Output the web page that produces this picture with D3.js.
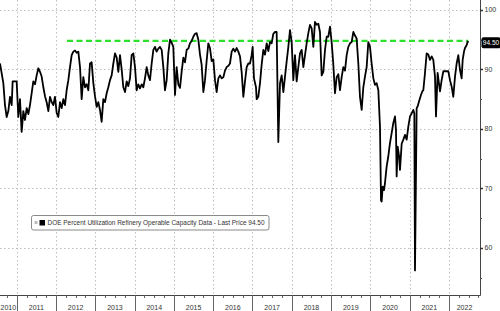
<!DOCTYPE html>
<html>
<head>
<meta charset="utf-8">
<script src="https://cdn.jsdelivr.net/npm/d3@7"></script>
<style>
  body { margin: 0; background: #fff; }
  text { font-family: "Liberation Sans", Arial, sans-serif; }
</style>
</head>
<body>
<div class="chart"></div>
<script>
// weekly-ish readings, x as decimal year
var dates = [
  2010.575, 2010.660, 2010.702, 2010.745, 2010.787, 2010.829, 2010.872, 2010.897, 2010.957, 2010.999,
  2011.041, 2011.084, 2011.126, 2011.169, 2011.211, 2011.254, 2011.296, 2011.338, 2011.381, 2011.423,
  2011.466, 2011.508, 2011.550, 2011.593, 2011.635, 2011.678, 2011.720, 2011.762, 2011.805, 2011.847,
  2011.890, 2011.932, 2011.974, 2012.017, 2012.059, 2012.102, 2012.144, 2012.187, 2012.229, 2012.271,
  2012.314, 2012.356, 2012.399, 2012.441, 2012.483, 2012.526, 2012.568, 2012.611, 2012.653, 2012.695,
  2012.738, 2012.780, 2012.823, 2012.865, 2012.907, 2012.950, 2012.992, 2013.035, 2013.077, 2013.119,
  2013.162, 2013.204, 2013.247, 2013.289, 2013.331, 2013.374, 2013.416, 2013.459, 2013.501, 2013.544,
  2013.586, 2013.628, 2013.671, 2013.713, 2013.756, 2013.798, 2013.840, 2013.883, 2013.925, 2013.968,
  2014.010, 2014.052, 2014.095, 2014.137, 2014.180, 2014.222, 2014.264, 2014.307, 2014.349, 2014.392,
  2014.434, 2014.477, 2014.519, 2014.561, 2014.604, 2014.646, 2014.689, 2014.731, 2014.773, 2014.816,
  2014.858, 2014.901, 2014.943, 2014.985, 2015.028, 2015.070, 2015.113, 2015.155, 2015.197, 2015.240,
  2015.282, 2015.325, 2015.367, 2015.410, 2015.452, 2015.494, 2015.537, 2015.579, 2015.622, 2015.664,
  2015.706, 2015.749, 2015.791, 2015.834, 2015.876, 2015.918, 2015.961, 2016.003, 2016.046, 2016.088,
  2016.131, 2016.173, 2016.215, 2016.258, 2016.300, 2016.343, 2016.385, 2016.427, 2016.470, 2016.512,
  2016.555, 2016.597, 2016.640, 2016.682, 2016.724, 2016.767, 2016.809, 2016.852, 2016.894, 2016.936,
  2016.979, 2017.004, 2017.038, 2017.089, 2017.106, 2017.148, 2017.191, 2017.233, 2017.276, 2017.318,
  2017.361, 2017.403, 2017.445, 2017.488, 2017.530, 2017.573, 2017.615, 2017.657, 2017.700, 2017.742,
  2017.785, 2017.827, 2017.869, 2017.912, 2017.954, 2017.997, 2018.039, 2018.081, 2018.124, 2018.166,
  2018.209, 2018.251, 2018.294, 2018.336, 2018.378, 2018.421, 2018.463, 2018.506, 2018.548, 2018.590,
  2018.633, 2018.675, 2018.717, 2018.760, 2018.802, 2018.845, 2018.887, 2018.929, 2018.972, 2019.014,
  2019.057, 2019.099, 2019.142, 2019.184, 2019.226, 2019.269, 2019.311, 2019.354, 2019.396, 2019.438,
  2019.481, 2019.523, 2019.566, 2019.608, 2019.650, 2019.693, 2019.735, 2019.778, 2019.820, 2019.862,
  2019.905, 2019.947, 2019.990, 2020.032, 2020.075, 2020.117, 2020.159, 2020.202, 2020.244, 2020.270,
  2020.287, 2020.312, 2020.346, 2020.371, 2020.414, 2020.456, 2020.498, 2020.541, 2020.583, 2020.626,
  2020.651, 2020.668, 2020.694, 2020.728, 2020.753, 2020.796, 2020.838, 2020.881, 2020.923, 2020.965,
  2021.008, 2021.050, 2021.093, 2021.118, 2021.135, 2021.177, 2021.203, 2021.237, 2021.287, 2021.321,
  2021.347, 2021.389, 2021.432, 2021.474, 2021.516, 2021.559, 2021.601, 2021.644, 2021.669, 2021.711,
  2021.771, 2021.813, 2021.856, 2021.898, 2021.940, 2021.983, 2022.025, 2022.068, 2022.110, 2022.153,
  2022.195, 2022.237, 2022.280, 2022.322, 2022.348, 2022.382, 2022.407, 2022.450, 2022.475, 2022.492
];

var values = [
  91, 87.7, 84, 82, 83, 85.4, 84, 88, 88, 88,
  82, 85, 79.5, 83, 81.5, 83.5, 82.5, 84, 86, 88,
  87.5, 89, 90.2, 89.6, 88.8, 87, 85.5, 84.5, 83, 85.4,
  84.5, 84, 85.4, 82.7, 82, 84.5, 83.5, 85, 84, 86.5,
  88.2, 90.4, 92.4, 93, 93.2, 92.8, 93, 90.4, 85, 88.7,
  87, 87.5, 86.5, 91, 91.2, 87.7, 85.5, 83.7, 84.5, 83.2,
  81.2, 85, 84.5, 86, 87, 88.2, 89, 91, 92.7, 92,
  89.6, 92.4, 90, 87, 86.2, 88, 87.2, 88.5, 92.4, 92.7,
  90.4, 86.5, 87.5, 86.8, 87.5, 87, 88.5, 90.4, 89, 88.2,
  91, 93.3, 93.8, 93, 93.5, 93.8, 93.3, 90.4, 86.5, 88.2,
  92.7, 95, 94.5, 93.8, 85.7, 90.4, 87.5, 86.9, 89.6, 92,
  91.2, 93.3, 93.5, 94.4, 94.8, 95.5, 96, 96.1, 95, 92.5,
  90.8, 86.2, 88.2, 91.5, 94.4, 93.6, 91.4, 91.7, 88.2, 86.2,
  88.5, 89, 88.5, 88.7, 89.8, 90.4, 90.6, 91, 93, 93.5,
  93, 93.6, 93, 92.2, 89.6, 85.4, 88, 90.4, 91, 91,
  92.4, 93.8, 88.5, 87, 85, 85.4, 87.7, 90.8, 93.3, 92.5,
  94.4, 93.1, 94.6, 94.4, 96, 96.3, 96.3, 77.8, 87.7, 89,
  86.2, 88.8, 91.3, 93.8, 96.6, 94.6, 88.2, 92.4, 88, 90.4,
  92.7, 93.3, 90.4, 92.4, 94.4, 96.1, 97.5, 96.9, 93.8, 98,
  97.5, 97.7, 96.3, 89, 89.6, 93.3, 95.5, 95.5, 97.2, 94.6,
  90.8, 86, 88.7, 89.2, 86.5, 88.7, 90.4, 89.8, 92.4, 93.8,
  94.4, 94.6, 96.3, 95.7, 95.2, 91, 85.4, 83.2, 87, 88.8,
  90.4, 94.6, 93.8, 91, 88.5, 87.4, 87.7, 86.5, 80.4, 68,
  67.8, 70.3, 69.7, 70.9, 73.7, 75.4, 77.6, 79.3, 81, 82.1,
  79.8, 72, 77, 75.5, 73.1, 77.5, 78.2, 79, 78.2, 80.4,
  82.1, 82.6, 83.2, 82.6, 56.2, 83.5, 83.8, 84.6, 85.7, 86.3,
  86.5, 89.4, 92.7, 92.5, 91.6, 92.2, 91.6, 88.8, 82.1, 89.4,
  86.3, 88.2, 89.7, 89.7, 89.7, 89.7, 88.2, 87.1, 85.4, 88.8,
  91, 92.4, 89.9, 88.5, 91.6, 93, 93.6, 94.1, 94.7, 94.5
];

var yearLabels = ["2010", "2011", "2012", "2013", "2014", "2015", "2016", "2017", "2018", "2019", "2020", "2021", "2022"];
var yTicks = [60, 70, 80, 90, 100];
var yMinorTicks = [55, 65, 75, 85, 95];
var lastPrice = 94.50;
var greenLevel = 94.8;
var greenStart = 2012.28;
var legendText = "DOE Percent Utilization Refinery Operable Capacity Data - Last Price 94.50";

var svgWidth = 500;
var svgHeight = 311;
var plotRight = 480;
var plotBottom = 295.5;

var svg = d3.select(".chart")
  .append("svg")
    .attr("width", svgWidth)
    .attr("height", svgHeight);

var xScale = d3.scaleLinear()
  .domain([2010.575, 2022.789])
  .range([0, plotRight]);

var yScale = d3.scaleLinear()
  .domain([51.98, 101.68])
  .range([plotBottom, 0]);

var grid = svg.append("g");

// horizontal dotted grid
grid.selectAll("line.h")
  .data(yTicks)
  .enter().append("line")
    .attr("x1", 0)
    .attr("x2", plotRight)
    .attr("y1", function(d) { return Math.round(yScale(d)) + 0.5; })
    .attr("y2", function(d) { return Math.round(yScale(d)) + 0.5; })
    .attr("stroke", "#bdbdbd")
    .attr("stroke-dasharray", "1.5,2.5");

// vertical dotted grid at year boundaries
var yearStarts = yearLabels.slice(1).map(function(d) { return +d; });
grid.selectAll("line.v")
  .data(yearStarts)
  .enter().append("line")
    .attr("x1", function(d) { return Math.round(xScale(d)) + 0.5; })
    .attr("x2", function(d) { return Math.round(xScale(d)) + 0.5; })
    .attr("y1", 0)
    .attr("y2", plotBottom)
    .attr("stroke", "#bdbdbd")
    .attr("stroke-dasharray", "1.5,2.5");

// green dashed level
svg.append("line")
  .attr("x1", xScale(greenStart))
  .attr("x2", xScale(dates[dates.length - 1]))
  .attr("y1", yScale(greenLevel))
  .attr("y2", yScale(greenLevel))
  .attr("stroke", "#2de02d")
  .attr("stroke-width", 2.2)
  .attr("stroke-dasharray", "6,3.5");

// the series
var line = d3.line()
  .x(function(d, i) { return xScale(dates[i]); })
  .y(function(d) { return yScale(d); });

svg.append("path")
  .datum(values)
  .attr("d", line)
  .attr("fill", "none")
  .attr("stroke", "#000")
  .attr("stroke-width", 1.8)
  .attr("stroke-linejoin", "round");

// bottom axis: line, quarter ticks, year separators, labels
var axisG = svg.append("g");
axisG.append("line")
  .attr("x1", 0).attr("x2", plotRight + 0.5)
  .attr("y1", plotBottom).attr("y2", plotBottom)
  .attr("stroke", "#444");

var quarterTicks = d3.range(2010.75, 2022.78, 0.25).filter(function(d) { return d % 1 !== 0; });
axisG.selectAll("line.q")
  .data(quarterTicks)
  .enter().append("line")
    .attr("x1", function(d) { return Math.round(xScale(d)) + 0.5; })
    .attr("x2", function(d) { return Math.round(xScale(d)) + 0.5; })
    .attr("y1", plotBottom)
    .attr("y2", plotBottom + 2.5)
    .attr("stroke", "#666");

axisG.selectAll("line.y")
  .data(yearStarts)
  .enter().append("line")
    .attr("x1", function(d) { return Math.round(xScale(d)) + 0.5; })
    .attr("x2", function(d) { return Math.round(xScale(d)) + 0.5; })
    .attr("y1", plotBottom)
    .attr("y2", svgHeight)
    .attr("stroke", "#666");

var dom = xScale.domain();
axisG.selectAll("text")
  .data(yearLabels)
  .enter().append("text")
    .attr("x", function(d) {
      var a = Math.max(+d, dom[0]);
      var b = Math.min(+d + 1, dom[1]);
      return xScale((a + b) / 2);
    })
    .attr("y", 309.5)
    .attr("text-anchor", "middle")
    .attr("font-size", "7px")
    .attr("fill", "#333")
    .text(function(d) { return d; });

// right axis
var rightG = svg.append("g");
rightG.append("line")
  .attr("x1", plotRight + 0.5).attr("x2", plotRight + 0.5)
  .attr("y1", 0).attr("y2", plotBottom)
  .attr("stroke", "#444");

rightG.selectAll("line.maj")
  .data(yTicks)
  .enter().append("line")
    .attr("x1", plotRight)
    .attr("x2", plotRight + 3)
    .attr("y1", function(d) { return Math.round(yScale(d)) + 0.5; })
    .attr("y2", function(d) { return Math.round(yScale(d)) + 0.5; })
    .attr("stroke", "#333")
    .attr("stroke-width", 1.5);

rightG.selectAll("line.min")
  .data(yMinorTicks)
  .enter().append("line")
    .attr("x1", plotRight)
    .attr("x2", plotRight + 2)
    .attr("y1", function(d) { return Math.round(yScale(d)) + 0.5; })
    .attr("y2", function(d) { return Math.round(yScale(d)) + 0.5; })
    .attr("stroke", "#555");

rightG.selectAll("text")
  .data(yTicks)
  .enter().append("text")
    .attr("x", plotRight + 4.5)
    .attr("y", function(d) { return yScale(d); })
    .attr("dy", "0.35em")
    .attr("font-size", "7px")
    .attr("fill", "#333")
    .text(function(d) { return d; });

// last price tag
var tagY = yScale(lastPrice);
svg.append("rect")
  .attr("x", 481.5)
  .attr("y", tagY - 5.5)
  .attr("width", 19)
  .attr("height", 11)
  .attr("rx", 2)
  .attr("fill", "#000");

svg.append("text")
  .attr("x", 491)
  .attr("y", tagY)
  .attr("dy", "0.35em")
  .attr("text-anchor", "middle")
  .attr("font-size", "6.5px")
  .attr("fill", "#fff")
  .text(lastPrice.toFixed(2));

// legend
var legend = svg.append("g");
legend.append("rect")
  .attr("x", 31.5)
  .attr("y", 215.5)
  .attr("width", 237.5)
  .attr("height", 14.5)
  .attr("rx", 2)
  .attr("fill", "#fff")
  .attr("stroke", "#8a8a8a");

legend.append("rect")
  .attr("x", 34.5).attr("y", 221)
  .attr("width", 3).attr("height", 3)
  .attr("fill", "#bbb");

legend.append("rect")
  .attr("x", 39.5).attr("y", 220)
  .attr("width", 5.5).attr("height", 5.5)
  .attr("fill", "#000");

legend.append("text")
  .attr("x", 47.5)
  .attr("y", 223)
  .attr("dy", "0.35em")
  .attr("font-size", "7px")
  .attr("fill", "#333")
  .attr("textLength", 217)
  .attr("lengthAdjust", "spacingAndGlyphs")
  .text(legendText);
</script>
</body>
</html>
